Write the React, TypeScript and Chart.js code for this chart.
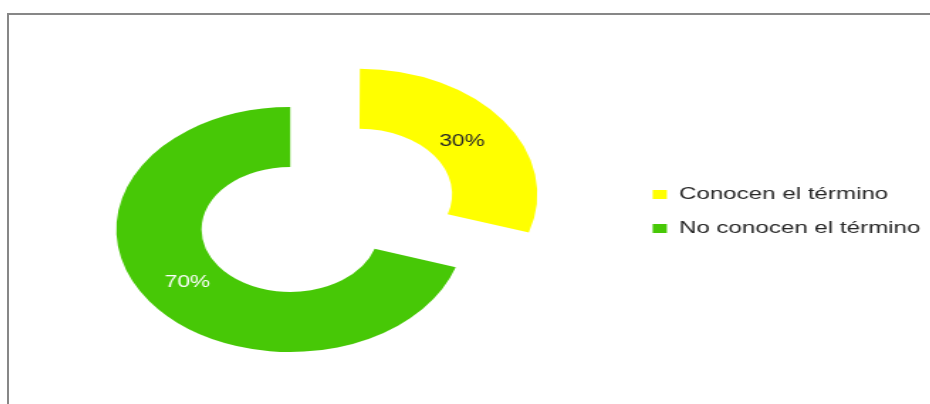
import React, { useEffect, useRef } from 'react';
import { Chart, registerables } from 'chart.js';

Chart.register(...registerables);

// ---- data ----
const categories = ['Conocen el término', 'No conocen el término'];
const values = [30, 70];
const sliceColors = ['#FFFF00', '#47C806'];
const labelColors = ['#262626', '#FFFFFF'];
const explodeShift = [60, 0];

// ---- layout constants ----
const STRETCH = 1.42;
const CANVAS_W = 692;
const CANVAS_H = 404;
const CANVAS_LEFT = -48;
const FONT = "'Liberation Sans', Arial, sans-serif";

export default function App() {
  const ref = useRef<HTMLCanvasElement | null>(null);

  useEffect(() => {
    if (!ref.current) return;
    const total = values.reduce((a, b) => a + b, 0);

    const labelPlugin = {
      id: 'sliceLabels',
      afterDatasetsDraw(chart: any) {
        const ctx = chart.ctx;
        const meta = chart.getDatasetMeta(0);
        ctx.save();
        ctx.font = `16px ${FONT}`;
        ctx.textAlign = 'center';
        ctx.textBaseline = 'middle';
        meta.data.forEach((arc: any, i: number) => {
          const p = arc.getProps(['x', 'y', 'startAngle', 'endAngle', 'innerRadius', 'outerRadius'], true);
          const mid = (p.startAngle + p.endAngle) / 2;
          const r = explodeShift[i] + (p.innerRadius + p.outerRadius) / 2 - 3;
          const pct = Math.round((values[i] / total) * 100) + '%';
          ctx.fillStyle = labelColors[i];
          ctx.fillText(pct, p.x + Math.cos(mid) * r, p.y + Math.sin(mid) * r);
        });
        ctx.restore();
      },
    };

    const chart = new Chart(ref.current, {
      type: 'doughnut',
      data: {
        labels: categories,
        datasets: [
          {
            data: values,
            backgroundColor: sliceColors,
            borderWidth: 0,
            offset: explodeShift.map((s) => s * 4),
            hoverOffset: 0,
          },
        ],
      },
      options: {
        responsive: false,
        animation: false,
        radius: 122.5,
        cutout: '51%',
        clip: false,
        layout: { padding: { left: 0, right: 0, top: 169, bottom: 114 } },
        events: [],
        plugins: {
          tooltip: { enabled: false },
          legend: {
            position: 'right',
            align: 'start',
            labels: {
              boxWidth: 10,
              boxHeight: 9,
              padding: 17,
              color: '#262626',
              font: { family: FONT, size: 17 },
            },
          },
        },
      } as any,
      plugins: [labelPlugin],
    });
    return () => chart.destroy();
  }, []);

  return (
    <div
      style={{
        position: 'fixed',
        left: 0,
        top: 0,
        width: 930,
        height: 404,
        overflow: 'hidden',
        background: '#fff',
      }}
    >
      <div
        style={{
          position: 'absolute',
          left: 7,
          top: 13,
          width: 1000,
          height: 500,
          borderTop: '2px solid #878787',
          borderLeft: '2px solid #878787',
        }}
      />
      <div
        style={{
          position: 'absolute',
          left: CANVAS_LEFT,
          top: 0,
          width: CANVAS_W,
          height: CANVAS_H,
          transform: `scaleX(${STRETCH})`,
          transformOrigin: '0 0',
        }}
      >
        <canvas ref={ref} width={CANVAS_W} height={CANVAS_H} style={{ width: CANVAS_W, height: CANVAS_H, display: 'block' }} />
      </div>
    </div>
  );
}
